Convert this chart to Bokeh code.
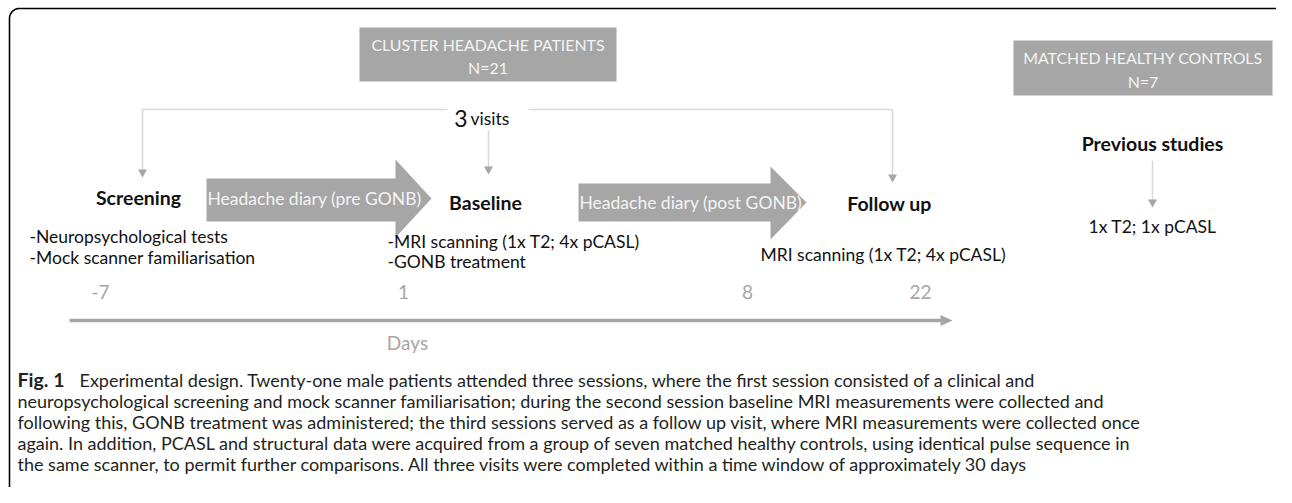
from bokeh.plotting import figure
from bokeh.models import Range1d, ColumnDataSource
from bokeh.core.properties import value
from bokeh.embed import file_html
from bokeh.resources import INLINE
import numpy as np

# ---------------- content ----------------
group_titles = ["CLUSTER HEADACHE PATIENTS", "MATCHED HEALTHY CONTROLS"]
group_sizes = ["N=21", "N=7"]
visits_count = "3"
visits_word = "visits"
stage_names = ["Screening", "Baseline", "Follow up", "Previous studies"]
arrow_texts = ["Headache diary (pre GONB)", "Headache diary (post GONB)"]
screening_items = ["-Neuropsychological tests", "-Mock scanner familiarisation"]
baseline_items = ["-MRI scanning (1x T2; 4x pCASL)", "-GONB treatment"]
followup_items = ["MRI scanning (1x T2; 4x pCASL)"]
previous_items = ["1x T2; 1x pCASL"]
day_labels = ["-7", "1", "8", "22"]
axis_title = "Days"
caption_bold = "Fig. 1"
caption_lines = [
    "Experimental design. Twenty-one male patients attended three sessions, where the first session consisted of a clinical and",
    "neuropsychological screening and mock scanner familiarisation; during the second session baseline MRI measurements were collected and",
    "following this, GONB treatment was administered; the third sessions served as a follow up visit, where MRI measurements were collected once",
    "again. In addition, PCASL and structural data were acquired from a group of seven matched healthy controls, using identical pulse sequence in",
    "the same scanner, to permit further comparisons. All three visits were completed within a time window of approximately 30 days",
]

# ---------------- layout (pixel space) ----------------
W, H = 1276, 487
GRAY = "#a6a6a6"
LIGHT = "#d9d9d9"
WHITE_T = "#f4f4f4"
DARK = "#111111"
FONT = "Lato"
CAP_FONT = "Lato"

p = figure(width=W, height=H, output_backend="svg", toolbar_location=None,
           x_range=Range1d(0, W), y_range=Range1d(H, 0),
           min_border=0, outline_line_color=None)
p.axis.visible = False
p.grid.visible = False
p.background_fill_color = "white"
p.border_fill_color = "white"


def txt(xs, ys, texts, size, color=DARK, style="normal", align="left",
        baseline="middle", font=FONT):
    src = ColumnDataSource(dict(x=list(xs), y=list(ys), t=list(texts)))
    p.text(x="x", y="y", text="t", source=src, text_font=value(font),
           text_font_size=f"{size}px", text_color=color,
           text_font_style=style, text_align=align, text_baseline=baseline)


# frame with rounded top corners
r = 10
L, T, R = 9, 8, 1290
ang = np.linspace(np.pi, 1.5 * np.pi, 20)
fx = [L, L] + list(L + r + r * np.cos(ang)) + [R - r]
fy = [600, T + r] + list(T + r + r * np.sin(ang)) + [T]
ang2 = np.linspace(1.5 * np.pi, 2 * np.pi, 20)
fx += list(R - r + r * np.cos(ang2)) + [R]
fy += list(T + r + r * np.sin(ang2)) + [600]
p.line(fx, fy, line_color="black", line_width=1.6)

# group boxes
boxes = [(359, 616, 27, 81), (1013, 1272, 40, 95)]
p.quad(left=[b[0] for b in boxes], right=[b[1] for b in boxes],
       top=[b[2] for b in boxes], bottom=[b[3] for b in boxes],
       fill_color=GRAY, line_color=None)
bx = [(b[0] + b[1]) / 2 for b in boxes]
txt(bx, [44, 57], group_titles, 15.9, WHITE_T, align="center")
txt(bx, [67, 81], group_sizes, 15.9, WHITE_T, align="center")

# connectors
p.line([142, 142, 447], [172, 109, 109], line_color=LIGHT, line_width=1.6)
p.line([528, 892, 892], [109, 109, 176], line_color=LIGHT, line_width=1.6)
p.line([488, 488], [130, 169], line_color=LIGHT, line_width=1.6)
p.line([1152, 1152], [160, 201], line_color=LIGHT, line_width=1.6)
tips = [(142, 177), (488, 174), (892, 182), (1152, 207)]
p.patches([[x - 4.5, x + 4.5, x] for x, y in tips],
          [[y - 8, y - 8, y] for x, y in tips],
          fill_color=GRAY, line_color=None)

# "3 visits"
txt([467], [118], [visits_count], 23, DARK, align="right", baseline="alphabetic")
txt([470], [118], [visits_word], 17.5, DARK, align="left", baseline="alphabetic")

# big block arrows
arrows = [
    dict(x0=206, xh=395, xt=431, bt=178, bb=221, ht=159, hb=237, ty=198),
    dict(x0=578, xh=770, xt=806, bt=183, bb=221, ht=166, hb=239, ty=202),
]
p.patches([[a["x0"], a["xh"], a["xh"], a["xt"], a["xh"], a["xh"], a["x0"]] for a in arrows],
          [[a["bt"], a["bt"], a["ht"], a["ty"], a["hb"], a["bb"], a["bb"]] for a in arrows],
          fill_color=GRAY, line_color=None)
txt([207, 579], [198, 202], arrow_texts, 17.5, WHITE_T, align="left")

# stage names
txt([138, 485, 889, 1152], [197, 202, 203, 143], stage_names, 19.5, DARK,
    style="bold", align="center")

# descriptions
txt([29, 29], [236, 257], screening_items, 17.5, DARK)
txt([387, 387], [241, 261], baseline_items, 17.5, DARK)
txt([760], [254], followup_items, 17.5, DARK)
txt([1152], [226], previous_items, 17.5, DARK, align="center")

# timeline
p.line([69, 942], [320, 320], line_color=GRAY, line_width=3.5)
p.patches([[940, 940, 952]], [[314.5, 325.5, 320]], fill_color=GRAY, line_color=None)
txt([100, 403, 747, 920], [291] * 4, day_labels, 19, GRAY, align="center")
txt([407], [342], [axis_title], 19, GRAY, align="center")

# caption
txt([17], [379], [caption_bold], 19.5, "#231f20", style="bold", font=CAP_FONT)
txt([79] + [17] * 4, [379, 400, 421, 442, 463], caption_lines, 18, "#231f20", font=CAP_FONT)

open("out.html", "w").write(file_html(p, INLINE))
